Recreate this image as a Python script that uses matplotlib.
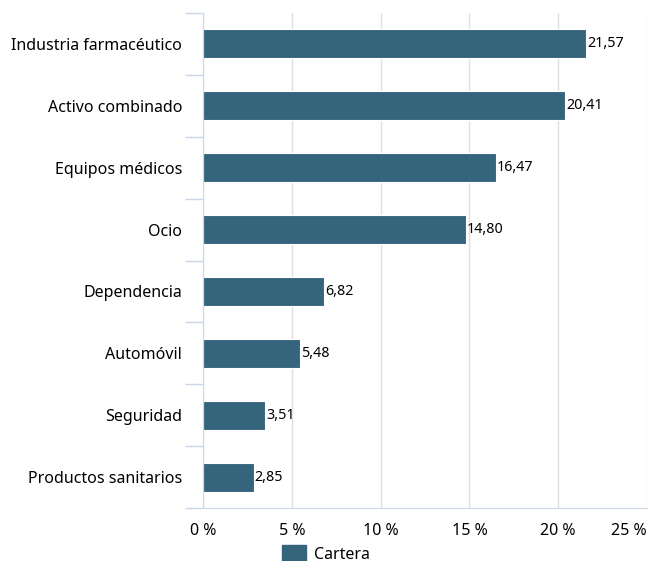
import matplotlib.pyplot as plt

categories = ["Industria farmacéutico", "Activo combinado", "Equipos médicos", "Ocio",
              "Dependencia", "Automóvil", "Seguridad", "Productos sanitarios"]
values = [21.57, 20.41, 16.47, 14.80, 6.82, 5.48, 3.51, 2.85]
xticks = [0, 5, 10, 15, 20, 25]
series_name = "Cartera"

plt.rcParams['font.family'] = ['Noto Sans', 'DejaVu Sans']
bar_color = "#35657d"
axis_color = "#ccd6eb"
grid_color = "#e0e0e0"

fig = plt.figure(figsize=(6.51, 5.61), dpi=100)
W, H = 651, 561
ax = fig.add_axes([203 / W, 1 - 508 / H, (647 - 203) / W, (508 - 13) / H])

n = len(categories)
pos = list(range(n))
ax.barh(pos, values, height=0.47, color=bar_color, edgecolor="white", linewidth=0.8, zorder=3)
ax.set_ylim(n - 0.5, -0.5)
ax.set_xlim(0, 25)

for p, v in zip(pos, values):
    ax.text(v + 0.05, p, f"{v:.2f}".replace(".", ","), va="center", ha="left",
            fontsize=10.3, color="black", zorder=4)

ax.set_yticks(pos)
ax.set_yticklabels(categories, fontsize=11.5)
ax.tick_params(axis="y", length=0, pad=15)
# boundary ticks on the category axis
ax.set_yticks([i - 0.5 for i in range(n + 1)], minor=True)
ax.tick_params(axis="y", which="minor", length=13, color=axis_color, width=1)

ax.set_xticks(xticks)
ax.set_xticklabels([f"{t} %" for t in xticks], fontsize=11.5)
ax.tick_params(axis="x", length=0, pad=11)
labels = ax.get_xticklabels()
labels[-1].set_horizontalalignment("right")

ax.grid(axis="x", color=grid_color, linewidth=1, zorder=0)
for s in ["top", "right"]:
    ax.spines[s].set_visible(False)
ax.spines["left"].set_color(axis_color)
ax.spines["bottom"].set_color(axis_color)
ax.spines["left"].set_zorder(5)

handle = plt.Rectangle((0, 0), 1, 1, color=bar_color)
fig.legend([handle], [series_name], loc="center", bbox_to_anchor=(0.5, 1 - 554 / H),
           frameon=False, fontsize=11.5, handlelength=1.5, handleheight=1.1, handletextpad=0.5)

fig.savefig("out.png", dpi=100)
